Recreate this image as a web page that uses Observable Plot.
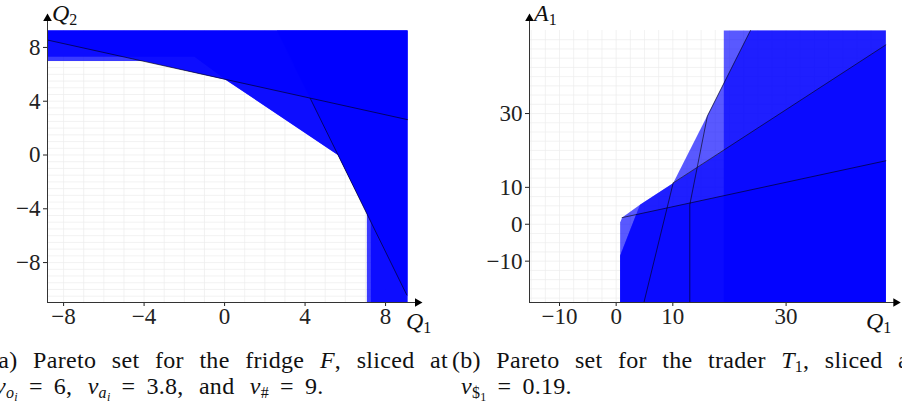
<!DOCTYPE html>
<html><head><meta charset="utf-8">
<script src="https://cdn.jsdelivr.net/npm/d3@7"></script>
<script src="https://cdn.jsdelivr.net/npm/@observablehq/plot@0.6"></script>
<style>
html,body{margin:0;padding:0;background:#fff;}
#root{position:relative;width:902px;height:409px;overflow:hidden;font-family:"Liberation Serif",serif;color:#111;}
.panel{position:absolute;top:0;}
.cap{position:absolute;font-size:24px;letter-spacing:0.3px;white-space:nowrap;line-height:1;}
.cap.j{text-align:justify;text-align-last:justify;white-space:normal;}
.cap .eq{margin:0 11px;}
.cap .w{margin-left:9px;}
.lbl{position:absolute;font-size:24px;font-style:italic;line-height:1;white-space:nowrap;}
.lbl sub{font-size:16px;font-style:normal;vertical-align:-4px;}
.cap sub{font-size:16px;vertical-align:-4px;}
.cap sub sub{font-size:12px;vertical-align:-3px;}
</style></head><body><div id="root"></div>
<script>
// ---------- Panel (a): fridge F ----------
const fridgeX = [-8.8, 9.09];
const fridgeY = [-10.97, 9.26];
const fridgeTicksX = [-8, -4, 0, 4, 8];
const fridgeTicksY = [-8, -4, 0, 4, 8];
// filled regions (vertices in Q1, Q2)
const fridgeAboveL1 = [[-8.8, 8.55], [9.09, 2.63], [9.09, 9.26], [-8.8, 9.26]];
const fridgeRightL2 = [[2.60, 9.26], [9.09, -10.52], [9.09, 9.26]];
const fridgeOuter = [[-8.8, 7.0], [-4.0, 7.0], [0.05, 5.6], [5.63, 0], [7.07, -4.3], [7.07, -10.97], [9.09, -10.97], [9.09, 9.26], [-8.8, 9.26]];
const fridgeInner = [[-8.8, 7.3], [-1.5, 7.3], [0.05, 5.6], [5.63, 0], [7.27, -5.0], [7.27, -10.97], [9.09, -10.97], [9.09, 9.26], [-8.8, 9.26]];
// black boundary lines
const fridgeLine1 = [[-8.8, 8.55], [9.09, 2.63]];
const fridgeLine2 = [[4.26, 4.2], [9.05, -10.4]];

// ---------- Panel (b): trader T1 ----------
const traderX = [-15.3, 47.6];
const traderY = [-21.2, 52.5];
const traderTicksX = [-10, 0, 10, 30];
const traderTicksY = [-10, 0, 10, 30];
const traderV = [[19, -21.2], [19, 52.5], [47.6, 52.5], [47.6, -21.2]];
const traderG = [[10.07, 11.2], [23.7, 52.5], [47.6, 52.5], [47.6, 48.6]];
const traderM = [[0.7, -21.2], [0.7, 0.5], [1.06, 1.8], [4.2, 5.3], [47.6, 48.6], [47.6, -21.2]];
const traderN = [[0.7, -21.2], [0.7, -8.5], [4.2, 5.3], [47.6, 48.6], [47.6, -21.2]];
const traderK = [[0.7, -21.2], [0.7, -8.5], [3.52, 2.62], [47.6, 17.2], [47.6, -21.2]];
const traderLine1 = [[1.06, 1.8], [47.6, 17.2]];
const traderLine2 = [[10.07, 11.2], [47.6, 48.6]];
const traderLine3 = [[4.9, -21.2], [10.07, 11.2]];
const traderLine4 = [[13.0, -21.2], [13.0, 5.3], [16.1, 29.3], [23.7, 52.5]];

function rows(polys) {
  const out = [];
  polys.forEach((p, i) => p.forEach(([x, y]) => out.push({id: i, x, y})));
  return out;
}
const fmt = d => d < 0 ? "\u2212" + Math.abs(d) : String(d);

function panel(o) {
  const {xd, yd, tx, ty, gx, gy, polys, lines, opacity, width, ml, mr} = o;
  const W = width - ml - mr, H = 330 - 30 - 28;
  const ppx = W / (xd[1] - xd[0]), ppy = H / (yd[1] - yd[0]);
  const xEnd = xd[1] + 13 / ppx, yEnd = yd[1] + 15 / ppy;
  return Plot.plot({
    width, height: 330,
    marginLeft: ml, marginRight: mr, marginTop: 30, marginBottom: 28,
    style: {fontFamily: "Liberation Serif, serif", fontSize: "23px", color: "#222", background: "transparent", overflow: "visible"},
    x: {domain: xd, ticks: tx, tickFormat: fmt, tickSize: 4, tickPadding: 1, label: null},
    y: {domain: yd, ticks: ty, tickFormat: fmt, tickSize: 4, tickPadding: 3, label: null},
    marks: [
      Plot.ruleX(gx, {stroke: "#ececec", strokeWidth: 0.7, y1: yd[0], y2: yd[1]}),
      Plot.ruleY(gy, {stroke: "#ececec", strokeWidth: 0.7, x1: xd[0], x2: xd[1]}),
      Plot.line(rows(polys), {x: "x", y: "y", z: "id", fill: "#0000ff", fillOpacity: opacity, stroke: "none", curve: "linear-closed"}),
      Plot.line(rows(lines), {x: "x", y: "y", z: "id", stroke: "#000", strokeWidth: 0.7, strokeOpacity: 0.85}),
      Plot.ruleY([yd[0]], {x1: xd[0], x2: xEnd - 4 / ppx, stroke: "#333", strokeWidth: 1}),
      Plot.ruleX([xd[0]], {y1: yd[0], y2: yEnd - 4 / ppy, stroke: "#333", strokeWidth: 1}),
      Plot.dot([[xEnd - 3 / ppx, yd[0]]], {x: d => d[0], y: d => d[1], symbol: "triangle", r: 3.2, rotate: 90, fill: "#000", stroke: "none"}),
      Plot.dot([[xd[0], yEnd - 3 / ppy]], {x: d => d[0], y: d => d[1], symbol: "triangle", r: 3.2, rotate: 0, fill: "#000", stroke: "none"})
    ]
  });
}

const root = document.getElementById("root");
const pa = panel({
  xd: fridgeX, yd: fridgeY, tx: fridgeTicksX, ty: fridgeTicksY,
  gx: d3.range(-8, 9.5, 1), gy: d3.range(-10.5, 9.3, 0.5),
  polys: [fridgeOuter, fridgeInner, fridgeAboveL1, fridgeRightL2],
  lines: [fridgeLine1, fridgeLine2], opacity: 0.77,
  width: 451, ml: 47, mr: 44
});
pa.classList.add("panel"); pa.style.left = "0px";
root.appendChild(pa);

const pb = panel({
  xd: traderX, yd: traderY, tx: traderTicksX, ty: traderTicksY,
  gx: d3.range(-15, 47.6, 2.5), gy: d3.range(-20, 52.5, 2.5),
  polys: [traderM, traderN, traderK, traderV, traderG],
  lines: [traderLine1, traderLine2, traderLine3, traderLine4], opacity: 0.65,
  width: 452, ml: 79, mr: 16.7
});
pb.classList.add("panel"); pb.style.left = "450px";
root.appendChild(pb);

function add(html, cls, left, top, width) {
  const d = document.createElement("div");
  d.className = cls; d.innerHTML = html;
  d.style.left = left + "px"; d.style.top = top + "px";
  if (width) d.style.width = width + "px";
  root.appendChild(d);
}
add("Q<sub>2</sub>", "lbl", 52, 1);
add("Q<sub>1</sub>", "lbl", 406, 309);
add("A<sub>1</sub>", "lbl", 534, 1);
add("Q<sub>1</sub>", "lbl", 866, 309);
add("(a) Pareto set for the fridge <i>F</i>, sliced at", "cap j", -10, 348, 458);
add("(b) Pareto set for the trader <i>T</i><sub>1</sub>, sliced at", "cap j", 452, 348, 464);
add("<i>v</i><sub><i>o<sub>i</sub></i></sub><span class='eq'>=</span>6, <span class='w'></span><i>v</i><sub><i>a<sub>i</sub></i></sub><span class='eq'>=</span>3.8, <span class='w'></span>and <span class='w'></span><i>v</i><sub>#</sub><span class='eq'>=</span>9.", "cap", -5, 374);
add("<i>v</i><sub>$<sub>1</sub></sub><span class='eq'>=</span>0.19.", "cap", 461, 374);
</script></body></html>
